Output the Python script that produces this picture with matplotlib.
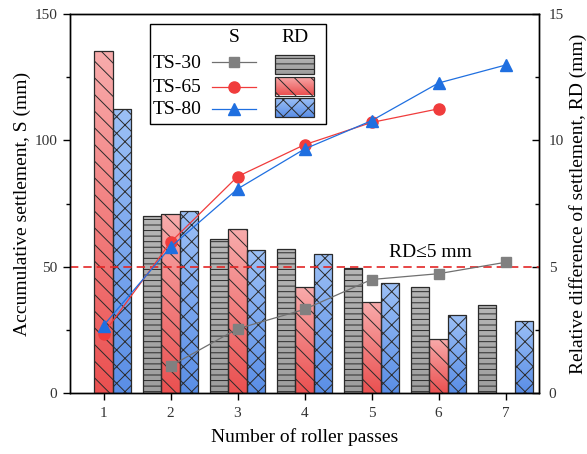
import numpy as np
import matplotlib
matplotlib.use('Agg')
import matplotlib.pyplot as plt
from matplotlib.colors import LinearSegmentedColormap
from matplotlib.patches import Rectangle
from matplotlib.lines import Line2D
from matplotlib.ticker import MultipleLocator

plt.rcParams['font.family'] = ['Liberation Serif', 'DejaVu Serif']
plt.rcParams['hatch.linewidth'] = 0.7

# ---------------- data ----------------
passes = [1, 2, 3, 4, 5, 6, 7]
series = ['TS-30', 'TS-65', 'TS-80']
s_ts30 = [np.nan, 10.8, 25.5, 33.2, 45.0, 47.3, 51.8]
s_ts65 = [23.6, 59.7, 85.7, 98.3, 107.1, 112.5, np.nan]
s_ts80 = [26.8, 57.8, 80.8, 96.6, 107.8, 122.7, 129.8]
rd_ts30 = [np.nan, 7.0, 6.1, 5.7, 4.95, 4.2, 3.5]
rd_ts65 = [13.55, 7.1, 6.5, 4.2, 3.6, 2.15, np.nan]
rd_ts80 = [11.25, 7.2, 5.65, 5.5, 4.35, 3.1, 2.85]
rd_limit = 5
rd_label = 'RD≤5 mm'

# ---------------- styles ----------------
line_styles = {
    'TS-30': dict(color='#707070', marker='s', ms=6.5, mfc='#808080', mec='#808080'),
    'TS-65': dict(color='#f03c3c', marker='o', ms=8, mfc='#f03c3c', mec='#f03c3c'),
    'TS-80': dict(color='#1f6fe0', marker='^', ms=8.5, mfc='#1f6fe0', mec='#1f6fe0'),
}
bar_styles = {
    'TS-30': dict(top='#b6b6b6', bot='#9e9e9e', hatch='---'),
    'TS-65': dict(top='#f8acac', bot='#ea5050', hatch='\\\\'),
    'TS-80': dict(top='#9cc0f6', bot='#5a8ee6', hatch='xx'),
}
bar_w = 0.275
offsets = {'TS-30': -bar_w, 'TS-65': 0.0, 'TS-80': bar_w}
edge_c = '#2a2a2a'

fig = plt.figure(figsize=(5.87, 4.54), dpi=100)
ax = fig.add_axes([70/587, (454-393.3)/454, 469/587, 379.3/454])
ax2 = ax.twinx()
ax.set_zorder(3)
ax2.set_zorder(1)
ax.patch.set_visible(False)


def grad_fill(axis, patch, c_top, c_bot, z, transform=None):
    x0, y0 = patch.get_x(), patch.get_y()
    w, h = patch.get_width(), patch.get_height()
    cmap = LinearSegmentedColormap.from_list('g', [c_bot, c_top])
    grad = np.linspace(0, 1, 256).reshape(-1, 1)
    kw = {}
    if transform is not None:
        kw['transform'] = transform
    im = axis.imshow(grad, cmap=cmap, extent=(x0, x0 + w, y0, y0 + h),
                     origin='lower', aspect='auto', zorder=z,
                     interpolation='bilinear', **kw)
    im.set_clip_path(patch)
    return im


rd_data = {'TS-30': rd_ts30, 'TS-65': rd_ts65, 'TS-80': rd_ts80}
s_data = {'TS-30': s_ts30, 'TS-65': s_ts65, 'TS-80': s_ts80}

for name in series:
    st = bar_styles[name]
    xs = [p + offsets[name] for p, v in zip(passes, rd_data[name]) if not np.isnan(v)]
    vs = [v for v in rd_data[name] if not np.isnan(v)]
    bars = ax2.bar(xs, vs, width=bar_w, facecolor='none', edgecolor=edge_c,
                   linewidth=0.9, hatch=st['hatch'], zorder=3)
    for b in bars:
        grad_fill(ax2, b, st['top'], st['bot'], 2)

ax2.axhline(rd_limit, color='#e32626', lw=1.2, dashes=(5, 3), zorder=5)
ax2.text(5.88, rd_limit + 0.58, rd_label, ha='center', va='center', fontsize=14)

for name in series:
    st = line_styles[name]
    ax.plot(passes, s_data[name], color=st['color'], lw=0.9, marker=st['marker'],
            ms=st['ms'], mfc=st['mfc'], mec=st['mec'], zorder=4)

# limits
ax.set_xlim(0.5, 7.5)
ax.set_ylim(0, 150)
ax2.set_ylim(0, 15)
ax2.set_xlim(0.5, 7.5)

ax.set_xticks(passes)
ax.yaxis.set_major_locator(MultipleLocator(50))
ax.yaxis.set_minor_locator(MultipleLocator(25))
ax2.yaxis.set_major_locator(MultipleLocator(5))
ax2.yaxis.set_minor_locator(MultipleLocator(2.5))

lab_c = '#333333'
ax.tick_params(axis='x', direction='out', length=5, width=1, labelsize=11, pad=5,
               labelcolor=lab_c, top=False)
ax.tick_params(axis='y', which='major', direction='out', length=5, width=1,
               labelsize=11, pad=4, labelcolor=lab_c)
ax.tick_params(axis='y', which='minor', direction='out', length=3, width=1)
ax2.tick_params(axis='y', which='major', direction='in', length=5, width=1,
                labelsize=11, pad=7, labelcolor=lab_c)
ax2.tick_params(axis='y', which='minor', direction='in', length=3, width=1)

for a in (ax, ax2):
    for sp in a.spines.values():
        sp.set_linewidth(1.0)
        sp.set_color('black')

ax.set_xlabel('Number of roller passes', fontsize=14)
ax.xaxis.set_label_coords(0.5, -0.092)
ax.set_ylabel('Accumulative settlement, S (mm)', fontsize=14)
ax.yaxis.set_label_coords(-0.083, 0.5)
ax2.set_ylabel('Relative difference of settlement, RD (mm)', fontsize=14)
ax2.yaxis.set_label_coords(1.064, 0.5)

# ---------------- legend (drawn in axes fraction) ----------------
T = ax.transAxes


def fx(px):
    return (px - 70) / 469


def fy(py):
    return (393.3 - py) / 379.3


box = Rectangle((fx(150), fy(124)), fx(326) - fx(150), fy(24) - fy(124),
                transform=T, facecolor='white', edgecolor='black', lw=1.0, zorder=10)
ax.add_patch(box)
ax.text(fx(234), fy(38), 'S', transform=T, ha='center', va='center', fontsize=14, zorder=12)
ax.text(fx(295), fy(38), 'RD', transform=T, ha='center', va='center', fontsize=14, zorder=12)
row_y = [62, 86.5, 109]
patch_rows = [(55, 74), (77, 95.5), (98, 117)]
for name, ry, (pt, pb) in zip(series, row_y, patch_rows):
    ax.text(fx(153), fy(ry + 1), name, transform=T, ha='left', va='center', fontsize=14, zorder=12)
    st = line_styles[name]
    ax.add_line(Line2D([fx(212), fx(256)], [fy(ry), fy(ry)], transform=T, color=st['color'],
                       lw=0.9, zorder=12))
    ax.add_line(Line2D([fx(234)], [fy(ry)], transform=T, marker=st['marker'], ms=st['ms'],
                       mfc=st['mfc'], mec=st['mec'], lw=0, zorder=13))
    bs = bar_styles[name]
    rect = Rectangle((fx(275), fy(pb)), fx(314) - fx(275), fy(pt) - fy(pb), transform=T,
                     facecolor='none', edgecolor=edge_c, lw=0.9, hatch=bs['hatch'], zorder=12)
    ax.add_patch(rect)
    grad_fill(ax, rect, bs['top'], bs['bot'], 11, transform=T)

ax.set_xlim(0.5, 7.5)
ax.set_ylim(0, 150)
ax2.set_xlim(0.5, 7.5)
ax2.set_ylim(0, 15)

fig.savefig('out.png', dpi=100, facecolor='white')
